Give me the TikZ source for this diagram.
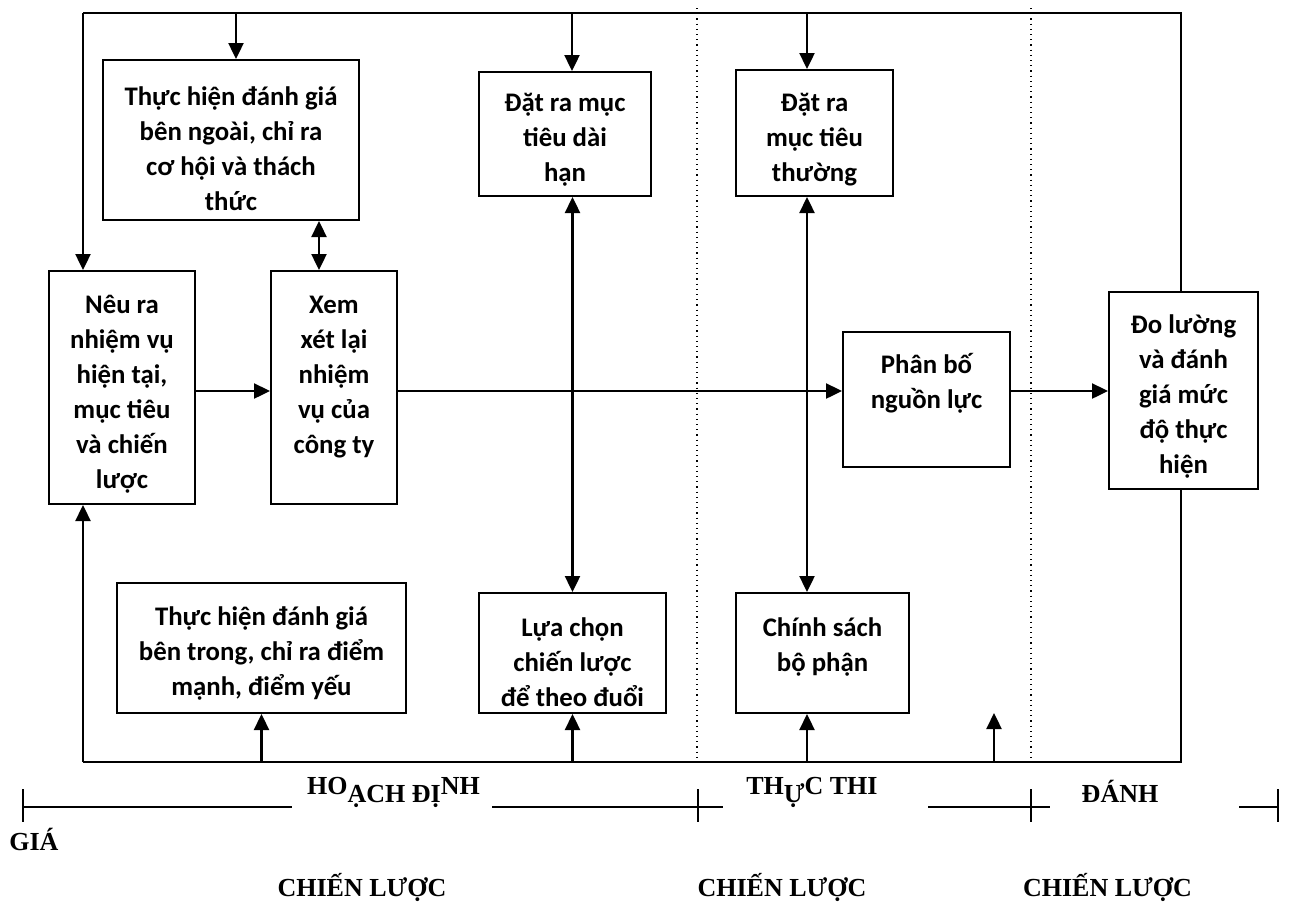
\documentclass[tikz,border=0pt]{standalone}
\usepackage{fontspec}
\setmainfont{Carlito}
\newfontfamily\timesfont{Liberation Serif}
\usetikzlibrary{arrows.meta}

\begin{document}
\begin{tikzpicture}[>={Triangle[length=8pt, width=7.5pt]}, x=0.5pt, y=-0.5pt,
    stepbox/.style={draw, line width=1pt, inner sep=0pt, align=center,
      font=\bfseries\fontsize{13.4pt}{17.5pt}\selectfont, text depth=0pt},
    link/.style={line width=1.2pt},
    phase/.style={font=\timesfont\bfseries\fontsize{13pt}{15pt}\selectfont, inner sep=0pt}]
  \useasboundingbox (0,0) rectangle (1290,901);

  % Boxes (text height = distance of the last line below the centre)
  \node[stepbox, text height=70pt, minimum width=128pt, minimum height=80pt] (ext) at (231,140)
    {Thực hiện đánh giá\\bên ngoài, chỉ ra\\cơ hội và thách\\thức};
  \node[stepbox, text height=100.5pt, minimum width=73pt, minimum height=116.5pt] (nr) at (122,387.5)
    {Nêu ra\\nhiệm vụ\\hiện tại,\\mục tiêu\\và chiến\\lược};
  \node[stepbox, text height=65.5pt, minimum width=63pt, minimum height=116.5pt] (xx) at (334,387.5)
    {Xem\\xét lại\\nhiệm\\vụ của\\công ty};
  \node[stepbox, text height=47pt, minimum width=86pt, minimum height=62pt] (dh) at (565,134)
    {Đặt ra mục\\tiêu dài\\hạn};
  \node[stepbox, text height=48pt, minimum width=78.5pt, minimum height=63pt] (ts) at (814.5,133)
    {Đặt ra\\mục tiêu\\thường};
  \node[stepbox, text height=8.5pt, minimum width=83.5pt, minimum height=67.5pt] (pb) at (926.5,399.5)
    {Phân bố\\nguồn lực};
  \node[stepbox, text height=82.5pt, minimum width=74.5pt, minimum height=98.5pt] (do) at (1183.5,390.5)
    {Đo lường\\và đánh\\giá mức\\độ thực\\hiện};
  \node[stepbox, text height=47pt, minimum width=144.5pt, minimum height=65pt] (ie) at (261.5,648)
    {Thực hiện đánh giá\\bên trong, chỉ ra điểm\\mạnh, điểm yếu};
  \node[stepbox, text height=53pt, minimum width=93.5pt, minimum height=60pt] (lc) at (572.5,653)
    {Lựa chọn\\chiến lược\\để theo đuổi};
  \node[stepbox, text height=18pt, minimum width=86.5pt, minimum height=60pt] (cs) at (822.5,653)
    {Chính sách\\bộ phận};

  % Feedback frame
  \coordinate (tl) at (83,13);
  \coordinate (tr) at (1181,13);
  \coordinate (bl) at (83,762);
  \coordinate (br) at (1181,762);
  \coordinate (t1) at (236,13);
  \coordinate (t2) at (572,13);
  \coordinate (t3) at (807,13);
  \coordinate (b4) at (994,762);
  \coordinate (mid) at (0,391);
  \draw[link] (tl) -- (tr) -- (tr |- do.north);
  \draw[link, ->] (tl) -- (tl |- nr.north);
  \draw[link, ->] (t1) -- (t1 |- ext.north);
  \draw[link, ->] (t2) -- (t2 |- dh.north);
  \draw[link, ->] (t3) -- (t3 |- ts.north);
  \draw[link] (do.south -| br) -- (br) -- (bl);
  \draw[link, ->] (bl) -- (bl |- nr.south);
  \draw[link, ->] (ie.south |- bl) -- (ie.south);
  \draw[link, ->] (lc.south |- bl) -- (lc.south);
  \draw[link, ->] (t3 |- bl) -- (t3 |- cs.south);
  \draw[link, ->] (b4) -- ++(0,-49);

  % Main flow
  \draw[link, <->] ([xshift=-7.5pt]xx.north |- ext.south) -- ([xshift=-7.5pt]xx.north);
  \draw[link, ->] (nr.east |- mid) -- (xx.west |- mid);
  \draw[link, ->] (xx.east |- mid) -- (pb.west |- mid);
  \draw[link, ->] (pb.east |- mid) -- (do.west |- mid);
  \draw[link, <->] (lc.north |- dh.south) -- (lc.north);
  \draw[link, <->] (t3 |- ts.south) -- (t3 |- cs.north);

  % Stage separators
  \foreach \x in {697,1031}
    \draw[dotted, line width=0.6pt] (\x,8) -- (\x,765);

  % Time line
  \foreach \a/\b in {23/292, 492/723, 928/1050, 1239/1278}
    \draw[link] (\a,807) -- (\b,807);
  \foreach \x in {23,698,1031,1278}
    \draw[line width=1pt] (\x,789) -- (\x,822);
  \node[phase, anchor=base] (plan) at (393.5,802) {\raisebox{4pt}{HO}ẠCH ĐỊ\raisebox{4pt}{NH}};
  \node[phase, anchor=base] (impl) at (812,802) {\raisebox{4pt}{TH}Ự\raisebox{4pt}{C THI}};
  \node[phase, anchor=base] (eval) at (1120,802) {ĐÁNH};
  \node[phase, anchor=base west] (gia) at (9,850) {GIÁ};
  \foreach \x/\n in {362/cl1, 782/cl2, 1107.5/cl3}
    \node[phase, anchor=base] (\n) at (\x,896) {CHIẾN LƯỢC};
\end{tikzpicture}
\end{document}
